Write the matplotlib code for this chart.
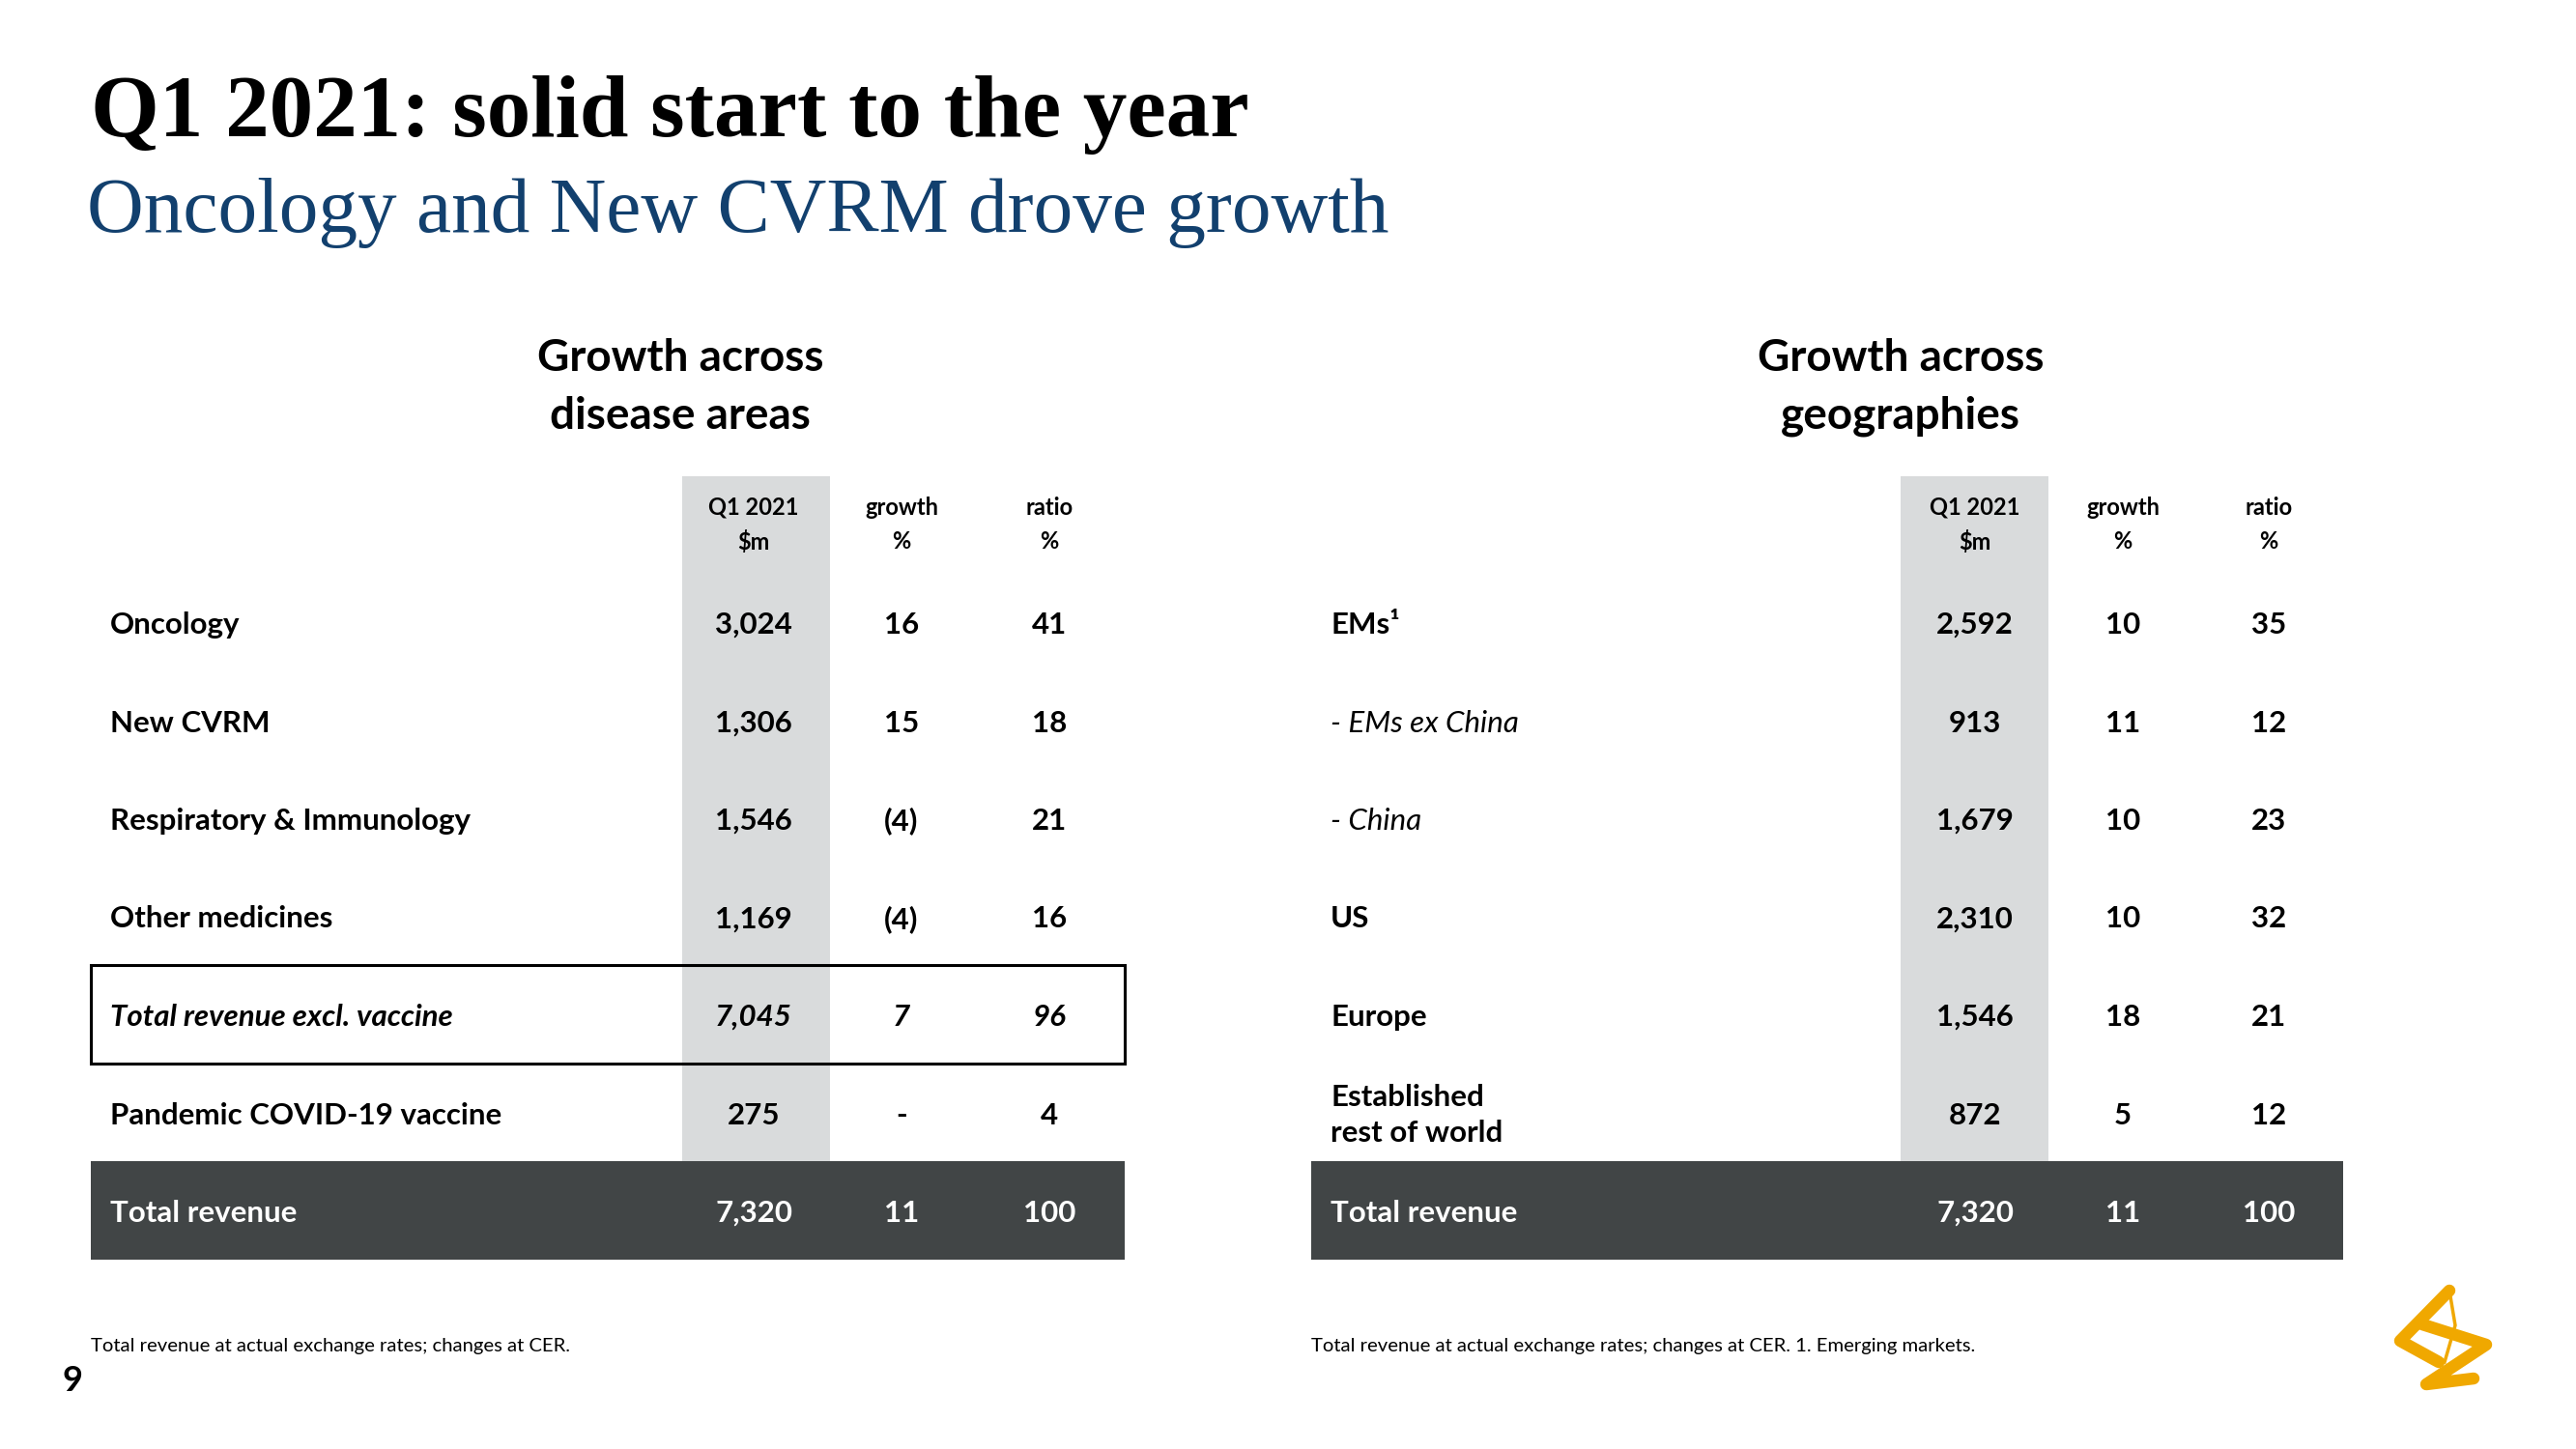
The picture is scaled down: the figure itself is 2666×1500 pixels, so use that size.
import matplotlib
matplotlib.use("Agg")
import matplotlib.pyplot as plt
from matplotlib.patches import Rectangle

# ---- data ----
title = "Q1 2021: solid start to the year"
subtitle = "Oncology and New CVRM drove growth"

col_heads = ["Q1 2021\n$m", "growth\n%", "ratio\n%"]

area_title = "Growth across\ndisease areas"
area_labels = ["Oncology", "New CVRM", "Respiratory & Immunology", "Other medicines",
               "Total revenue excl. vaccine", "Pandemic COVID-19 vaccine", "Total revenue"]
area_sales = ["3,024", "1,306", "1,546", "1,169", "7,045", "275", "7,320"]
area_growth = ["16", "15", "(4)", "(4)", "7", "-", "11"]
area_ratio = ["41", "18", "21", "16", "96", "4", "100"]

geo_title = "Growth across\ngeographies"
geo_labels = ["EMs¹", "- EMs ex China", "- China", "US", "Europe",
              "Established\nrest of world", "Total revenue"]
geo_sales = ["2,592", "913", "1,679", "2,310", "1,546", "872", "7,320"]
geo_growth = ["10", "11", "10", "10", "18", "5", "11"]
geo_ratio = ["35", "12", "23", "32", "21", "12", "100"]

area_note = "Total revenue at actual exchange rates; changes at CER."
geo_note = "Total revenue at actual exchange rates; changes at CER. 1. Emerging markets."

# ---- style ----
SANS = ["Lato", "DejaVu Sans"]
SERIF = ["Liberation Serif", "DejaVu Serif"]
GREY = "#D9DBDC"
DARK = "#414546"
BLUE = "#12406E"

fig = plt.figure(figsize=(26.66, 15), dpi=100)
ax = fig.add_axes([0, 0, 1, 1])
ax.set_xlim(0, 2666)
ax.set_ylim(1500, 0)
ax.axis("off")

ax.text(94, 141, title, family=SERIF, fontweight="bold", fontsize=65.5, va="baseline")
ax.text(90, 240, subtitle, family=SERIF, fontsize=58.5, va="baseline", color=BLUE)

row_y0 = 644
row_h = 101.5


def draw_table(x0, x1, grey_x, col_x, label_x, head_x, heading, labels, sales, growth,
               ratio, note, italic_rows, boxed_row=None):
    top_grey = 493
    bottom = row_y0 + row_h * (len(labels) - 1) - row_h / 2
    ax.add_patch(Rectangle((grey_x[0], top_grey), grey_x[1] - grey_x[0], bottom - top_grey,
                           color=GREY, lw=0, zorder=0))
    ax.add_patch(Rectangle((x0, bottom), x1 - x0, row_h, color=DARK, lw=0, zorder=0))
    ax.text(head_x, 401, heading, family=SANS, fontweight="bold",
            fontsize=33, ha="center", va="center", linespacing=1.5)
    for cx, h in zip(col_x, col_heads):
        ax.text(cx, 543, h, family=SANS, fontweight="bold", fontsize=17,
                ha="center", va="center", linespacing=1.6)
    n = len(labels)
    for i in range(n):
        y = row_y0 + row_h * i + 3
        last = i == n - 1
        c = "white" if last else "black"
        style = "italic" if i in italic_rows or i == boxed_row else "normal"
        lw = "normal" if i in italic_rows else "bold"
        ax.text(label_x, y, labels[i], family=SANS, fontweight=lw, style=style,
                fontsize=22.5, va="center", color=c, linespacing=1.4)
        vstyle = "italic" if i == boxed_row else "normal"
        for cx, v in zip(col_x, (sales[i], growth[i], ratio[i])):
            ax.text(cx, y, v, family=SANS, fontweight="bold", style=vstyle,
                    fontsize=22.5, ha="center", va="center", color=c)
    if boxed_row is not None:
        yb = row_y0 + row_h * boxed_row - row_h / 2
        ax.add_patch(Rectangle((x0, yb), x1 - x0, row_h, fill=False, ec="black",
                               lw=2.2, zorder=3))
    ax.text(x0, 1393, note, family=SANS, fontsize=14.6, va="center")


draw_table(94, 1164, (706, 859), (780, 933, 1086), 114, 704, area_title, area_labels,
           area_sales, area_growth, area_ratio, area_note, italic_rows=[], boxed_row=4)
draw_table(1357, 2425, (1967, 2120), (2044, 2197, 2348), 1377, 1967, geo_title, geo_labels,
           geo_sales, geo_growth, geo_ratio, geo_note, italic_rows=[1, 2])

ax.text(64, 1430, "9", family=SANS, fontweight="bold", fontsize=26, va="center")

# AstraZeneca style logo mark
gold = "#F0A800"
ax.plot([2535, 2484, 2524], [1336, 1388, 1410], color=gold, lw=9,
        solid_capstyle="round", solid_joinstyle="round")
ax.plot([2535, 2541, 2530], [1336, 1372, 1410], color=gold, lw=2.5)
ax.plot([2507, 2573, 2511, 2560], [1371, 1392, 1433, 1427], color=gold, lw=9,
        solid_capstyle="round", solid_joinstyle="round")

fig.savefig("out.png", dpi=100, facecolor="white")
